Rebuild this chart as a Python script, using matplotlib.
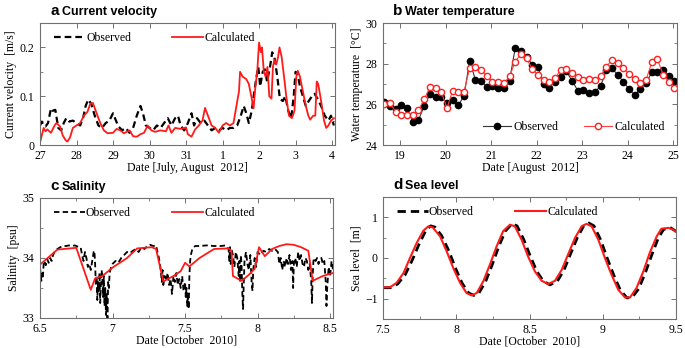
import matplotlib
matplotlib.use('Agg')
import matplotlib.pyplot as plt
from matplotlib.ticker import MultipleLocator, FixedLocator
import numpy as np

# ---- a: current velocity (days counted from July 0, so Aug 1 = 32)
vel_obs_t = [27.00, 27.05, 27.10, 27.15, 27.22, 27.30, 27.35, 27.42, 27.50, 27.58, 27.65, 27.72,
             27.80, 27.90, 28.00, 28.10, 28.18, 28.25, 28.32, 28.40, 28.50, 28.60, 28.70, 28.80,
             28.90, 29.00, 29.08, 29.15, 29.25, 29.35, 29.45, 29.55, 29.65, 29.75, 29.82, 29.90,
             30.00, 30.10, 30.20, 30.30, 30.40, 30.50, 30.60, 30.70, 30.78, 30.85, 30.95, 31.05,
             31.15, 31.22, 31.30, 31.40, 31.50, 31.60, 31.70, 31.80, 31.90, 32.00, 32.10, 32.20,
             32.30, 32.40, 32.50, 32.58, 32.65, 32.72, 32.80, 32.87, 32.93, 32.98, 33.03, 33.10,
             33.16, 33.22, 33.30, 33.36, 33.42, 33.50, 33.57, 33.65, 33.72, 33.80, 33.88, 33.95,
             34.00, 34.06, 34.12, 34.20, 34.28, 34.36, 34.45, 34.52, 34.60, 34.70, 34.80, 34.90,
             34.97, 35.05]
vel_obs = [0.040, 0.048, 0.040, 0.038, 0.045, 0.075, 0.070, 0.072, 0.035, 0.030, 0.045, 0.055,
           0.048, 0.050, 0.045, 0.040, 0.055, 0.080, 0.093, 0.085, 0.060, 0.040, 0.035, 0.045,
           0.050, 0.065, 0.050, 0.038, 0.030, 0.035, 0.025, 0.035, 0.060, 0.080, 0.065, 0.040,
           0.035, 0.030, 0.040, 0.035, 0.045, 0.055, 0.040, 0.055, 0.060, 0.040, 0.030, 0.045,
           0.065, 0.040, 0.055, 0.045, 0.050, 0.040, 0.030, 0.035, 0.030, 0.035, 0.030, 0.035,
           0.035, 0.040, 0.060, 0.080, 0.065, 0.045, 0.070, 0.110, 0.140, 0.160, 0.120, 0.150,
           0.155, 0.130, 0.160, 0.190, 0.180, 0.140, 0.095, 0.090, 0.100, 0.070, 0.055, 0.100,
           0.150, 0.145, 0.120, 0.100, 0.080, 0.090, 0.100, 0.105, 0.095, 0.080, 0.060, 0.050,
           0.060, 0.040]
vel_calc_t = [27.00, 27.05, 27.10, 27.15, 27.20, 27.30, 27.40, 27.45, 27.55, 27.62, 27.70, 27.75,
              27.82, 27.90, 28.00, 28.10, 28.20, 28.30, 28.38, 28.45, 28.55, 28.65, 28.75, 28.85,
              29.00, 29.10, 29.20, 29.30, 29.45, 29.55, 29.65, 29.75, 29.85, 29.95, 30.05, 30.15,
              30.30, 30.45, 30.52, 30.60, 30.70, 30.85, 31.00, 31.05, 31.15, 31.25, 31.35, 31.45,
              31.52, 31.60, 31.70, 31.80, 31.90, 32.00, 32.10, 32.20, 32.30, 32.38, 32.45, 32.48,
              32.55, 32.65, 32.72, 32.80, 32.85, 32.90, 32.95, 33.00, 33.05, 33.08, 33.13, 33.18,
              33.23, 33.28, 33.34, 33.38, 33.42, 33.47, 33.52, 33.56, 33.62, 33.70, 33.76, 33.82,
              33.90, 33.97, 34.02, 34.06, 34.12, 34.20, 34.28, 34.35, 34.40, 34.48, 34.54, 34.58,
              34.62, 34.70, 34.78, 34.84, 34.90, 34.97, 35.05]
vel_calc = [0.005, 0.020, 0.035, 0.028, 0.032, 0.025, 0.040, 0.045, 0.038, 0.020, 0.010, 0.007,
            0.015, 0.035, 0.040, 0.045, 0.060, 0.068, 0.085, 0.086, 0.065, 0.045, 0.030, 0.024,
            0.025, 0.033, 0.030, 0.024, 0.030, 0.018, 0.017, 0.022, 0.025, 0.040, 0.030, 0.027,
            0.030, 0.028, 0.040, 0.025, 0.035, 0.033, 0.036, 0.022, 0.017, 0.032, 0.040, 0.050,
            0.076, 0.060, 0.040, 0.035, 0.025, 0.040, 0.045, 0.040, 0.045, 0.080, 0.110, 0.150,
            0.140, 0.135, 0.125, 0.095, 0.075, 0.120, 0.150, 0.210, 0.190, 0.200, 0.150, 0.140,
            0.160, 0.100, 0.095, 0.160, 0.175, 0.165, 0.180, 0.200, 0.180, 0.130, 0.090, 0.060,
            0.055, 0.070, 0.140, 0.152, 0.140, 0.110, 0.080, 0.060, 0.052, 0.060, 0.060, 0.130,
            0.125, 0.090, 0.050, 0.035, 0.040, 0.050, 0.055]
vel_ticks = [27, 28, 29, 30, 31, 32, 33, 34, 35]
vel_tick_labels = ['27', '28', '29', '30', '31', '1', '2', '3', '4']

# ---- b: water temperature, 3-hourly
temp_t = np.arange(18.65, 25.05, 0.125)
temp_obs = [26.13, 25.90, 25.75, 25.97, 25.80, 25.13, 25.23, 25.92, 26.50, 26.38, 26.38, 26.05,
            26.20, 25.95, 26.42, 28.15, 27.20, 27.17, 26.85, 26.90, 26.82, 26.78, 27.15, 28.77,
            28.63, 28.35, 27.95, 27.85, 27.00, 26.82, 27.12, 27.33, 27.62, 27.15, 26.68, 26.71,
            26.55, 26.63, 26.88, 27.67, 27.78, 27.45, 27.12, 26.75, 26.46, 26.75, 27.05, 27.57,
            27.57, 27.70, 27.40, 27.15]
temp_calc = [26.00, 26.05, 25.64, 25.48, 25.50, 25.48, 25.72, 26.25, 26.84, 26.80, 26.63, 25.80,
             26.68, 26.63, 26.63, 27.78, 27.83, 27.70, 27.40, 27.12, 27.12, 27.04, 27.37, 28.10,
             28.48, 28.27, 27.73, 27.45, 27.20, 27.12, 27.28, 27.70, 27.73, 27.53, 27.33, 27.20,
             27.23, 27.20, 27.37, 27.86, 28.16, 28.03, 27.78, 27.50, 27.23, 27.07, 27.20, 28.06,
             28.22, 27.45, 27.12, 26.80]

# ---- c: salinity
sal_obs_t = [6.500, 6.505, 6.510, 6.515, 6.520, 6.525, 6.530, 6.540, 6.550, 6.560, 6.570, 6.580,
             6.590, 6.600, 6.620, 6.640, 6.660, 6.680, 6.700, 6.720, 6.740, 6.760, 6.780, 6.790,
             6.800, 6.810, 6.820, 6.830, 6.840, 6.850, 6.860, 6.870, 6.875, 6.880, 6.885, 6.890,
             6.895, 6.900, 6.905, 6.910, 6.915, 6.920, 6.925, 6.930, 6.935, 6.940, 6.945, 6.950,
             6.955, 6.960, 6.965, 6.970, 6.975, 6.980, 6.990, 7.000, 7.020, 7.040, 7.060, 7.080,
             7.100, 7.120, 7.140, 7.160, 7.180, 7.200, 7.220, 7.240, 7.260, 7.280, 7.300, 7.310,
             7.320, 7.330, 7.340, 7.345, 7.350, 7.360, 7.370, 7.380, 7.390, 7.400, 7.410, 7.420,
             7.430, 7.440, 7.450, 7.460, 7.470, 7.480, 7.490, 7.500, 7.505, 7.510, 7.515, 7.520,
             7.525, 7.530, 7.535, 7.540, 7.550, 7.570, 7.600, 7.650, 7.700, 7.750, 7.780, 7.800,
             7.805, 7.810, 7.815, 7.820, 7.830, 7.840, 7.850, 7.860, 7.870, 7.875, 7.880, 7.885,
             7.890, 7.895, 7.900, 7.905, 7.910, 7.920, 7.930, 7.940, 7.950, 7.960, 7.965, 7.970,
             7.980, 7.990, 8.000, 8.020, 8.040, 8.060, 8.080, 8.100, 8.120, 8.140, 8.150, 8.160,
             8.170, 8.180, 8.190, 8.200, 8.210, 8.220, 8.230, 8.240, 8.245, 8.250, 8.260, 8.270,
             8.280, 8.290, 8.300, 8.310, 8.320, 8.330, 8.340, 8.350, 8.360, 8.370, 8.375, 8.380,
             8.385, 8.390, 8.400, 8.410, 8.420, 8.430, 8.440, 8.450, 8.460, 8.470, 8.475, 8.480,
             8.490, 8.500, 8.510, 8.520]
sal_obs = [33.85, 33.70, 33.62, 33.75, 33.68, 33.90, 33.95, 33.88, 33.98, 33.92, 34.00, 33.95,
           34.05, 34.10, 34.15, 34.18, 34.20, 34.20, 34.21, 34.20, 34.21, 34.19, 34.18, 34.05,
           33.95, 34.10, 34.00, 33.85, 33.90, 33.80, 33.95, 34.10, 34.12, 33.90, 33.55, 33.70,
           33.30, 33.60, 33.45, 33.75, 33.25, 33.55, 33.80, 33.65, 33.35, 33.70, 33.20, 33.50,
           33.05, 33.40, 33.00, 33.60, 33.50, 33.75, 33.85, 33.90, 33.95, 33.92, 34.00, 34.05,
           34.10, 34.08, 34.12, 34.15, 34.10, 34.18, 34.15, 34.20, 34.22, 34.20, 34.21, 34.10,
           34.00, 33.85, 33.60, 33.80, 33.55, 33.70, 33.62, 33.75, 33.55, 33.65, 33.40, 33.70,
           33.60, 33.75, 33.55, 33.65, 33.50, 33.70, 33.45, 33.60, 33.35, 33.50, 33.20, 33.40,
           33.15, 33.70, 33.95, 34.05, 34.15, 34.20, 34.20, 34.21, 34.20, 34.20, 34.21, 34.15,
           33.95, 34.18, 33.90, 34.15, 34.05, 33.85, 34.10, 34.00, 33.70, 33.95, 33.60, 34.05,
           33.85, 33.40, 33.15, 33.60, 33.95, 34.10, 33.90, 33.80, 34.05, 33.55, 33.45, 33.80,
           34.00, 33.85, 34.10, 34.05, 34.12, 34.10, 34.15, 34.12, 34.15, 34.10, 33.90, 34.00,
           33.80, 33.95, 33.85, 34.00, 33.90, 34.05, 33.80, 33.95, 33.50, 33.90, 34.00, 33.85,
           34.10, 33.95, 34.05, 33.90, 33.85, 34.00, 33.95, 33.80, 33.90, 33.60, 33.25, 33.70,
           33.95, 34.00, 33.95, 34.00, 33.90, 33.97, 34.00, 33.90, 33.95, 33.60, 33.20, 33.50,
           33.85, 33.70, 33.95, 33.80]
sal_calc_t = [6.50, 6.62, 6.75, 6.85, 6.88, 6.93, 7.00, 7.10, 7.17, 7.27, 7.30, 7.35, 7.42, 7.47,
              7.50, 7.53, 7.60, 7.70, 7.80, 7.82, 7.83, 7.89, 7.94, 7.98, 8.01, 8.05, 8.10, 8.15,
              8.20, 8.25, 8.30, 8.35, 8.38, 8.45, 8.52]
sal_calc = [33.89, 34.14, 34.17, 33.47, 33.66, 33.70, 33.84, 34.00, 34.16, 34.18, 34.15, 33.61,
            33.70, 33.78, 33.92, 33.86, 34.00, 34.15, 34.16, 34.12, 33.70, 33.62, 33.72, 33.82,
            34.18, 34.03, 34.15, 34.20, 34.23, 34.22, 34.18, 34.12, 33.62, 33.70, 33.75]

# ---- d: sea level
sea_obs_t = [7.50, 7.55, 7.60, 7.65, 7.70, 7.745, 7.79, 7.825, 7.855, 7.90, 7.95, 7.995, 8.04,
             8.085, 8.12, 8.155, 8.20, 8.245, 8.29, 8.335, 8.38, 8.415, 8.46, 8.505, 8.55, 8.595,
             8.64, 8.69, 8.735, 8.78, 8.825, 8.87, 8.905, 8.94, 8.985, 9.03, 9.075, 9.12, 9.165,
             9.20, 9.245, 9.29, 9.335, 9.38, 9.415, 9.46, 9.49, 9.50]
sea_obs = [-0.73, -0.73, -0.64, -0.42, -0.05, 0.33, 0.66, 0.79, 0.76, 0.55, 0.17, -0.25, -0.62,
           -0.86, -0.92, -0.86, -0.58, -0.17, 0.28, 0.66, 0.84, 0.79, 0.46, 0.05, -0.33, -0.57,
           -0.66, -0.57, -0.30, 0.10, 0.49, 0.79, 0.86, 0.79, 0.45, 0.00, -0.42, -0.79, -0.98,
           -0.97, -0.76, -0.37, 0.08, 0.50, 0.70, 0.75, 0.68, 0.65]
sea_calc_t = [7.50, 7.548, 7.593, 7.64, 7.684, 7.73, 7.775, 7.81, 7.84, 7.89, 7.935, 7.98, 8.026,
              8.07, 8.105, 8.14, 8.185, 8.23, 8.276, 8.32, 8.367, 8.40, 8.446, 8.49, 8.537, 8.583,
              8.628, 8.674, 8.72, 8.765, 8.81, 8.856, 8.89, 8.924, 8.97, 9.015, 9.06, 9.106, 9.152,
              9.186, 9.23, 9.277, 9.32, 9.368, 9.40, 9.448, 9.48, 9.50]
sea_calc = [-0.72, -0.72, -0.61, -0.37, 0.00, 0.37, 0.67, 0.78, 0.75, 0.53, 0.16, -0.25, -0.61,
            -0.86, -0.92, -0.86, -0.57, -0.16, 0.29, 0.66, 0.82, 0.78, 0.45, 0.04, -0.33, -0.56,
            -0.64, -0.56, -0.29, 0.10, 0.49, 0.78, 0.84, 0.78, 0.45, 0.00, -0.41, -0.78, -0.97,
            -0.97, -0.74, -0.33, 0.12, 0.53, 0.72, 0.74, 0.70, 0.64]

SERIF = ['Liberation Serif', 'DejaVu Serif']
SANS = ['Liberation Sans', 'DejaVu Sans']
FRAME = '#707070'
DASH = (0, (3.0, 1.8))


def style_axes(ax, letter, title, xlabel, ylabel):
    for s in ax.spines.values():
        s.set_color(FRAME)
        s.set_linewidth(0.8)
    ax.tick_params(which='both', direction='in', top=True, right=True, color=FRAME,
                   labelsize=8.5)
    ax.tick_params(axis='x', which='both', pad=3.5)
    ax.tick_params(axis='y', which='both', pad=4)
    ax.tick_params(which='major', length=3.5, width=0.7)
    ax.tick_params(which='minor', length=2, width=0.6)
    for lab in ax.get_xticklabels() + ax.get_yticklabels():
        lab.set_family(SERIF)
    ax.set_xlabel(xlabel, family=SERIF, fontsize=8.5, labelpad=0)
    ax.set_ylabel(ylabel, family=SERIF, fontsize=8.5, labelpad=2)
    ax.text(0.035, 1.04, letter, transform=ax.transAxes, family=SANS, fontweight='bold',
            fontsize=11, va='bottom', ha='left')
    ax.text(0.075, 1.045, title, transform=ax.transAxes, family=SANS, fontweight='bold',
            fontsize=9, va='bottom', ha='left')


def line_legend(ax):
    ax.legend(loc='upper left', ncol=2, frameon=False, handlelength=2.6, columnspacing=3.5,
              handletextpad=0.1, borderaxespad=0.3, bbox_to_anchor=(0.02, 0.99),
              prop={'family': SERIF, 'size': 8.5})


fig = plt.figure(figsize=(6.85, 3.48), dpi=100)

# a
ax = fig.add_axes([40 / 685, 1 - 145 / 348, 295 / 685, 122 / 348])
ax.plot(vel_obs_t, vel_obs, color='black', lw=1.6, linestyle=DASH, label='Observed')
ax.plot(vel_calc_t, vel_calc, color='#ff1a1a', lw=1.3, label='Calculated')
ax.set_xlim(27, 35.08)
ax.set_ylim(0, 0.25)
ax.set_xticks(vel_ticks)
ax.set_xticklabels(vel_tick_labels)
ax.yaxis.set_major_locator(FixedLocator([0, 0.1, 0.2]))
ax.yaxis.set_major_formatter(plt.FuncFormatter(lambda v, p: '0' if v == 0 else f'{v:g}'))
ax.yaxis.set_minor_locator(MultipleLocator(0.05))
style_axes(ax, 'a', 'Current velocity', 'Date [July, August  2012]', 'Current velocity  [m/s]')
line_legend(ax)

# b
ax = fig.add_axes([383 / 685, 1 - 145 / 348, 294 / 685, 122 / 348])
ax.plot(temp_t, temp_obs, color='#333333', lw=0.8, marker='o', ms=4.5, mfc='black',
        mec='black', label='Observed')
ax.plot(temp_t, temp_calc, color='#ff4040', lw=0.8, marker='o', ms=4.5, mfc='white',
        mec='#ff2020', mew=1.0, label='Calculated')
ax.set_xlim(18.62, 25.08)
ax.set_ylim(24, 30)
ax.xaxis.set_major_locator(MultipleLocator(1))
ax.yaxis.set_major_locator(MultipleLocator(2))
ax.yaxis.set_minor_locator(MultipleLocator(1))
style_axes(ax, 'b', 'Water temperature', 'Date [August  2012]', 'Water temperature  [°C]')
ax.legend(loc='lower right', ncol=2, frameon=False, handlelength=2.4, columnspacing=2.2,
          handletextpad=0.2, numpoints=1, borderaxespad=0.6,
          prop={'family': SERIF, 'size': 8.5})

# c
ax = fig.add_axes([40 / 685, 1 - 318 / 348, 293 / 685, 120 / 348])
ax.plot(sal_obs_t, sal_obs, color='black', lw=1.3, linestyle=DASH, label='Observed')
ax.plot(sal_calc_t, sal_calc, color='#ff1a1a', lw=1.3, label='Calculated')
ax.set_xlim(6.5, 8.52)
ax.set_ylim(33, 35)
ax.xaxis.set_major_locator(MultipleLocator(0.5))
ax.xaxis.set_major_formatter(plt.FuncFormatter(lambda v, p: f'{v:g}'))
ax.xaxis.set_minor_locator(MultipleLocator(0.25))
ax.yaxis.set_major_locator(MultipleLocator(1))
ax.yaxis.set_minor_locator(MultipleLocator(0.5))
style_axes(ax, 'c', 'Salinity', 'Date [October  2010]', 'Salinity  [psu]')
line_legend(ax)

# d
ax = fig.add_axes([383 / 685, 1 - 319 / 348, 293 / 685, 122 / 348])
ax.plot(sea_obs_t, sea_obs, color='black', lw=2.0, linestyle=DASH, label='Observed')
ax.plot(sea_calc_t, sea_calc, color='#ff1a1a', lw=1.5, label='Calculated')
ax.set_xlim(7.5, 9.5)
ax.set_ylim(-1.5, 1.5)
ax.xaxis.set_major_locator(MultipleLocator(0.5))
ax.xaxis.set_major_formatter(plt.FuncFormatter(lambda v, p: f'{v:g}'))
ax.xaxis.set_minor_locator(MultipleLocator(0.25))
ax.yaxis.set_major_locator(MultipleLocator(1))
ax.yaxis.set_minor_locator(MultipleLocator(0.5))
style_axes(ax, 'd', 'Sea level', 'Date [October  2010]', 'Sea level  [m]')
line_legend(ax)

fig.savefig('out.png', dpi=100)
